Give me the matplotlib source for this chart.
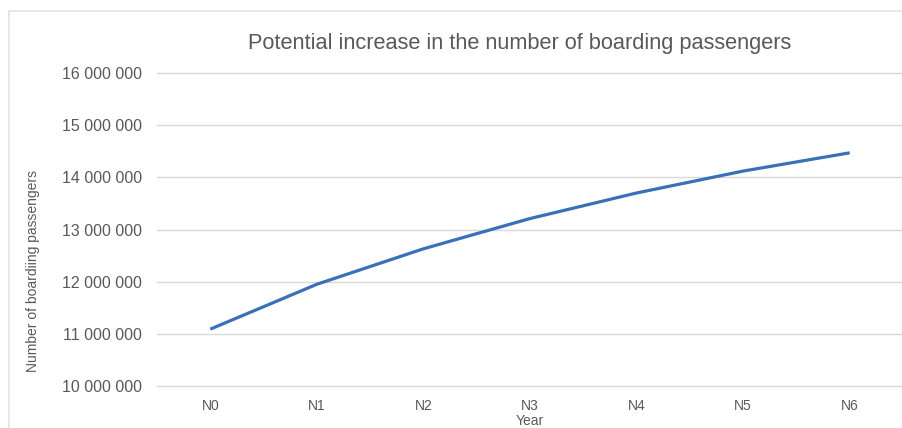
import matplotlib
matplotlib.use("Agg")
import matplotlib.pyplot as plt
from matplotlib.lines import Line2D
from matplotlib.ticker import FuncFormatter

years = ["N0", "N1", "N2", "N3", "N4", "N5", "N6"]
passengers = [11_090_000, 11_950_000, 12_630_000, 13_210_000, 13_700_000, 14_120_000, 14_470_000]
y_ticks = [10_000_000, 11_000_000, 12_000_000, 13_000_000, 14_000_000, 15_000_000, 16_000_000]

plt.rcParams["font.family"] = ["Liberation Sans", "DejaVu Sans"]

W, H = 903, 428
fig = plt.figure(figsize=(W / 100, H / 100), dpi=100)
fig.patch.set_facecolor("white")

# axes box in pixel coordinates
left, right, top, bottom = 157, 903, 73, 386
ax = fig.add_axes([left / W, 1 - bottom / H, (right - left) / W, (bottom - top) / H])

x = list(range(len(years)))
ax.plot(x, passengers, color="#3A70B8", linewidth=2.3, solid_capstyle="butt", zorder=3)

ax.set_xlim(-0.5, len(years) - 0.5)
ax.set_ylim(y_ticks[0], y_ticks[-1])
ax.set_yticks(y_ticks)
ax.yaxis.set_major_formatter(FuncFormatter(lambda v, p: f"{int(v):,}".replace(",", " ")))
ax.set_xticks(x)
ax.set_xticklabels(years)

ax.grid(axis="y", color="#D9D9D9", linewidth=1.0)
for gl in ax.get_ygridlines():
    gl.set_clip_on(False)
ax.set_axisbelow(True)
for s in ax.spines.values():
    s.set_visible(False)
ax.tick_params(axis="both", length=0)
ax.tick_params(axis="y", labelsize=11.5, labelcolor="#595959", pad=11)
ax.tick_params(axis="x", labelsize=10, labelcolor="#595959", pad=9)

ax.set_xlabel("Year", fontsize=10, color="#595959", labelpad=1)

fig.text(33 / W, 1 - 271 / H, "Number of boardiing passengers", rotation=90,
         ha="center", va="center", fontsize=10, color="#595959")

fig.text(520 / W, 1 - 44 / H, "Potential increase in the number of boarding passengers",
         ha="center", va="center", fontsize=15.7, color="#595959")

# outer chart frame
fig.add_artist(Line2D([9 / W, 1], [1 - 11 / H, 1 - 11 / H], color="#E3E3E3", linewidth=1.2))
fig.add_artist(Line2D([9 / W, 9 / W], [0, 1 - 11 / H], color="#E3E3E3", linewidth=1.2))

fig.savefig("out.png", dpi=100, facecolor="white")
